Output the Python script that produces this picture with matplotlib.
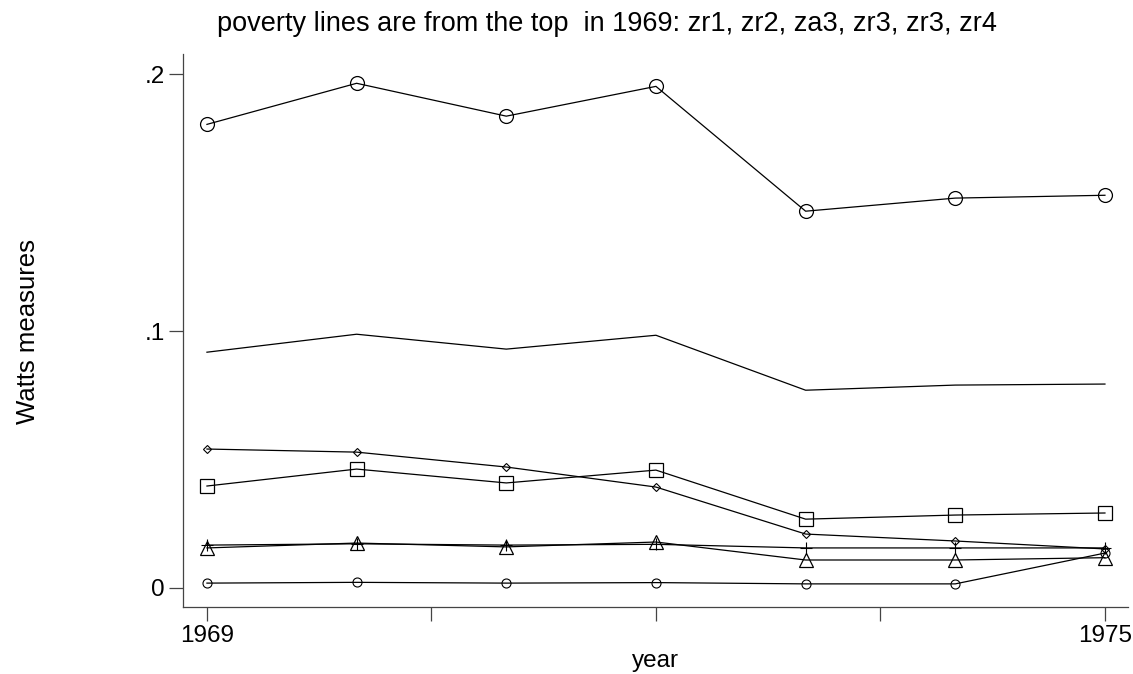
import numpy as np
import matplotlib.pyplot as plt

plt.rcParams['font.family'] = ['Liberation Sans', 'DejaVu Sans']

years = [1969, 1970, 1971, 1972, 1973, 1974, 1975]

# Watts measures, one series per poverty line
w_big_circle = [0.1805, 0.1965, 0.1837, 0.1953, 0.1467, 0.1518, 0.1529]
w_plain = [0.0918, 0.0988, 0.0930, 0.0984, 0.0770, 0.0790, 0.0794]
w_diamond = [0.0541, 0.0529, 0.0471, 0.0393, 0.0210, 0.0183, 0.0152]
w_square = [0.0397, 0.0463, 0.0409, 0.0459, 0.0268, 0.0284, 0.0292]
w_triangle = [0.0156, 0.0175, 0.0160, 0.0179, 0.0109, 0.0109, 0.0118]
w_plus = [0.0167, 0.0172, 0.0167, 0.0170, 0.0156, 0.0156, 0.0156]
w_small_circle = [0.0019, 0.0022, 0.0019, 0.0021, 0.0016, 0.0016, 0.0136]

fig = plt.figure(figsize=(11.33, 6.74), dpi=100)
ax = fig.add_axes([183/1133, 67/674, 945/1133, 553/674])

lw = 0.9
ax.plot(years, w_big_circle, color='black', lw=lw, marker='o', ms=10, mfc='none', mec='black', mew=0.9)
ax.plot(years, w_plain, color='black', lw=lw)
ax.plot(years, w_diamond, color='black', lw=lw, marker='D', ms=4.5, mfc='none', mec='black', mew=0.8)
ax.plot(years, w_square, color='black', lw=lw, marker='s', ms=10, mfc='none', mec='black', mew=0.9)
ax.plot(years, w_triangle, color='black', lw=lw, marker='^', ms=10, mfc='none', mec='black', mew=0.9)
ax.plot(years, w_plus, color='black', lw=lw, marker='+', ms=8, mec='black', mew=0.8)
ax.plot(years, w_small_circle, color='black', lw=lw, marker='o', ms=6.5, mfc='none', mec='black', mew=0.8)

ax.set_xlim(1968.84, 1975.154)
ax.set_ylim(-0.0074, 0.2079)

ax.set_xticks([1969, 1970.5, 1972, 1973.5, 1975])
ax.set_xticklabels(['1969', '', '', '', '1975'])
ax.set_yticks([0, 0.1, 0.2])
ax.set_yticklabels(['0', '.1', '.2'])

for s in ['top', 'right']:
    ax.spines[s].set_visible(False)
for s in ['left', 'bottom']:
    ax.spines[s].set_color('#444444')
    ax.spines[s].set_linewidth(0.9)

ax.tick_params(axis='both', direction='out', length=10, width=0.9, color='#444444', labelsize=17.5, pad=3)

ax.set_xlabel('year', fontsize=17.5, labelpad=2)
fig.text(28/1133, 1 - 332/674, 'Watts measures', fontsize=18.5, rotation=90, va='center', ha='center')
fig.text(217/1133, 1 - 31/674, 'poverty lines are from the top  in 1969: zr1, zr2, za3, zr3, zr3, zr4',
         fontsize=19.5, va='baseline', ha='left')

fig.savefig('out.png', dpi=100)
